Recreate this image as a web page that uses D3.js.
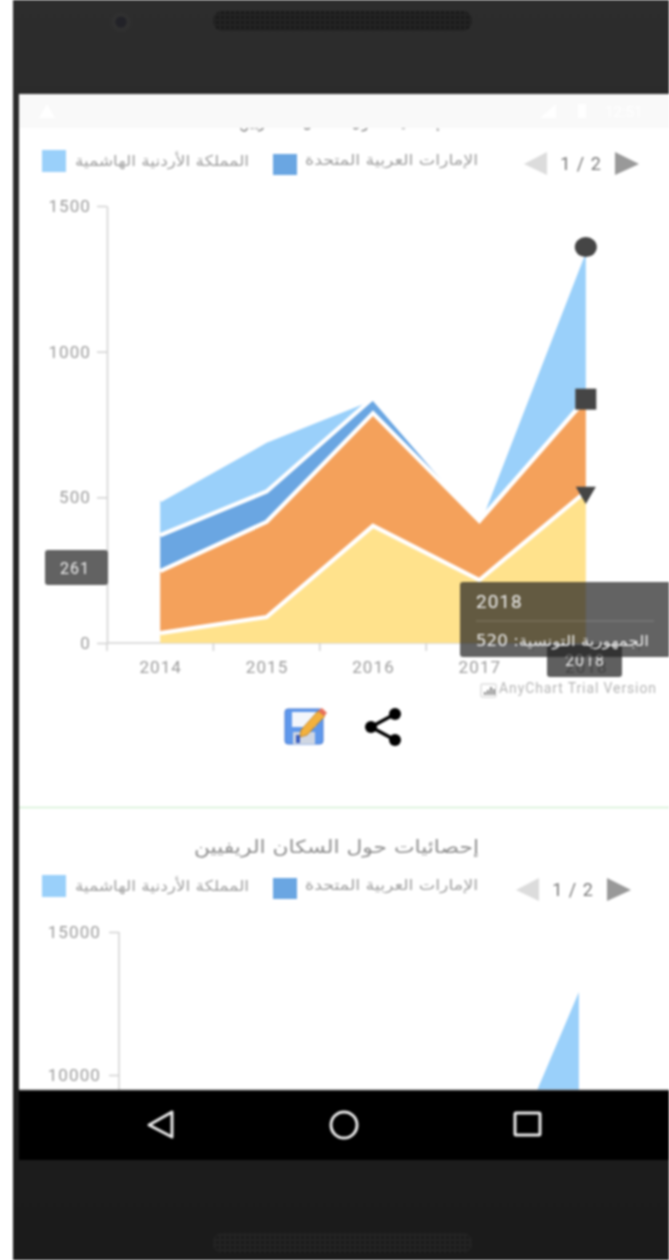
<!DOCTYPE html>
<html lang="ar"><head><meta charset="utf-8">
<script src="https://cdn.jsdelivr.net/npm/d3@7"></script>
<style>
html,body{margin:0;padding:0;background:#fff;overflow:hidden}
svg{display:block;filter:blur(.8px)}
text{font-family:"DejaVu Sans",sans-serif}
.num{font-family:Roboto,"DejaVu Sans",sans-serif}
</style></head><body>
<svg id="c" width="669" height="1260"></svg>
<script>
const years = ["2014","2015","2016","2017","2018"];
const tunisia = [34, 89, 402, 216, 520];
const secondBand = [213, 327, 387, 203, 317];
const uae = [123, 104, 52, 0, 0];
const jordan = [120, 175, 0, 0, 522];
const yTicks1 = [0, 500, 1000, 1500];
const yTicks2 = [10000, 15000];
const jordanRural = [4500, 12900];
const yearsRural = ["2017","2018"];
const allYearsRural = years;
const legendNames = ["المملكة الأردنية الهاشمية", "الإمارات العربية المتحدة"];
const titleRural = "إحصائيات حول السكان الريفيين";
const titleUrban = "إحصائيات حول السكان الحضريين";
const tooltipLine = "الجمهورية التونسية: 520";
const colors = {yellow:"#ffe28c", orange:"#f4a15b", blue:"#6aa6e2", light:"#9ad0fa"};

const svg = d3.select("#c");
const defs = svg.append("defs");
const bez = defs.append("linearGradient").attr("id","bez").attr("x1",0).attr("y1",0).attr("x2",0).attr("y2",1);
bez.append("stop").attr("offset","0").attr("stop-color","#2d2d2d");
bez.append("stop").attr("offset","1").attr("stop-color","#1b1b1b");
const pat = defs.append("pattern").attr("id","dots").attr("width",5).attr("height",5).attr("patternUnits","userSpaceOnUse");
pat.append("rect").attr("width",5).attr("height",5).attr("fill","#232323");
pat.append("circle").attr("cx",2.5).attr("cy",2.5).attr("r",1.1).attr("fill","#0e0e0e");
defs.append("clipPath").attr("id","screen2").append("rect").attr("x",19).attr("y",810).attr("width",650).attr("height",280);

// device body
svg.append("rect").attr("x",13).attr("y",0).attr("width",656).attr("height",1260).attr("fill","url(#bez)");
svg.append("rect").attr("x",19).attr("y",94).attr("width",650).attr("height",1066).attr("fill","#fff");
svg.append("circle").attr("cx",121).attr("cy",22).attr("r",10).attr("fill","#303030");
svg.append("circle").attr("cx",121).attr("cy",22).attr("r",5.5).attr("fill","#222228");
[[213,11],[213,1233]].forEach(([x,y])=>svg.append("rect").attr("x",x).attr("y",y).attr("width",259).attr("height",20).attr("rx",9).attr("fill","url(#dots)"));

function legend(y0, yDark, pagerX, pagerY){
  svg.append("rect").attr("x",42).attr("y",y0).attr("width",24).attr("height",22).attr("fill",colors.light);
  svg.append("rect").attr("x",273).attr("y",yDark).attr("width",24).attr("height",21).attr("fill",colors.blue);
  svg.append("text").attr("x",75).attr("y",y0+16).attr("font-size",15).attr("fill","#a0a0a0").attr("textLength",174).attr("lengthAdjust","spacingAndGlyphs").attr("direction","rtl").attr("text-anchor","end").text(legendNames[0]);
  svg.append("text").attr("x",305).attr("y",y0+15).attr("font-size",15).attr("fill","#a0a0a0").attr("textLength",173).attr("lengthAdjust","spacingAndGlyphs").attr("direction","rtl").attr("text-anchor","end").text(legendNames[1]);
  svg.append("path").attr("d",`M${pagerX},${pagerY+12}L${pagerX+23},${pagerY}V${pagerY+23}Z`).attr("fill","#dcdcdc");
  svg.append("path").attr("d",`M${pagerX+91},${pagerY}L${pagerX+115},${pagerY+12}L${pagerX+91},${pagerY+23}Z`).attr("fill","#999");
  svg.append("text").attr("class","num").attr("x",pagerX+57).attr("y",pagerY+18).attr("text-anchor","middle").attr("font-size",18).attr("letter-spacing",1).attr("fill","#777").text("1 / 2");
}

// first chart
const x1 = d3.scaleBand().domain(years).range([107,639]);
const y1 = d3.scaleLinear().domain([0,1500]).range([643,206]);
const cx1 = d => x1(d)+x1.bandwidth()/2;
const stackRows = years.map((y,i)=>({y, a:tunisia[i], b:secondBand[i], c:uae[i], d:jordan[i]}));
const stacked = d3.stack().keys(["a","b","c","d"])(stackRows);
const fills = [colors.yellow, colors.orange, colors.blue, colors.light];
const area1 = d3.area().x(d=>cx1(d.data.y)).y0(d=>y1(d[0])).y1(d=>y1(d[1]));
const top1 = d3.line().x(d=>cx1(d.data.y)).y(d=>y1(d[1]));

svg.append("text").attr("x",239).attr("y",127).attr("text-anchor","end").attr("direction","rtl").attr("font-size",18).attr("fill","#8f8f8f").attr("textLength",201).attr("lengthAdjust","spacingAndGlyphs").text(titleUrban);
legend(150,154,524,152);

function axisStyle(g){
  g.selectAll("path.domain").attr("stroke","#d2d2d2").attr("stroke-width",1.5);
  g.selectAll(".tick line").attr("stroke","#d2d2d2").attr("stroke-width",1.5);
  g.selectAll("text").attr("class","num").attr("fill","#9c9c9c").attr("font-size",17).attr("letter-spacing",1.1);
}
const gy = svg.append("g").attr("transform","translate(107,0)").call(d3.axisLeft(y1).tickValues(yTicks1).tickFormat(d3.format("d")).tickSize(10).tickPadding(6).tickSizeOuter(0));
axisStyle(gy);
const gx = svg.append("g").attr("transform","translate(0,643)").call(d3.axisBottom(d3.scalePoint().domain(years).range([cx1(years[0]),cx1(years[4])])).tickSize(0).tickPadding(18).tickSizeOuter(0));
axisStyle(gx);
gx.select("path.domain").remove();
svg.append("line").attr("x1",107).attr("x2",639).attr("y1",643).attr("y2",643).attr("stroke","#d2d2d2").attr("stroke-width",1.5);
svg.selectAll("line.bt").data(years.concat(["end"])).join("line").attr("class","bt")
  .attr("x1",(d,i)=>107+i*x1.step()).attr("x2",(d,i)=>107+i*x1.step()).attr("y1",643).attr("y2",651).attr("stroke","#d2d2d2").attr("stroke-width",1.5);

[3,2,1,0].forEach(i=>{
  svg.append("path").attr("d",area1(stacked[i])).attr("fill",fills[i]);
  svg.append("path").attr("d",top1(stacked[i])).attr("fill","none").attr("stroke","#fff").attr("stroke-width",4.2);
});

// markers on the 2018 points
const last = years.length-1;
const mark = "#454545";
svg.append("ellipse").attr("cx",cx1("2018")).attr("cy",y1(stacked[3][last][1])).attr("rx",11).attr("ry",10).attr("fill",mark);
svg.append("path").attr("transform",`translate(${cx1("2018")},${y1(stacked[1][last][1])})`).attr("d",d3.symbol(d3.symbolSquare,440)).attr("fill",mark);
svg.append("path").attr("transform",`translate(${cx1("2018")},${y1(stacked[0][last][1])+1}) rotate(180)`).attr("d",d3.symbol(d3.symbolTriangle,175)).attr("fill",mark);

// crosshair tags
svg.append("rect").attr("x",45).attr("y",550).attr("width",63).attr("height",35).attr("rx",3).attr("fill","#626262");
svg.append("text").attr("class","num").attr("x",75).attr("y",574).attr("text-anchor","middle").attr("font-size",16).attr("letter-spacing",1).attr("fill","#eee").text("261");
svg.append("rect").attr("x",547).attr("y",645).attr("width",75).attr("height",32).attr("rx",3).attr("fill","rgb(33,33,33)").attr("fill-opacity",.72);
svg.append("text").attr("class","num").attr("x",585).attr("y",666).attr("text-anchor","middle").attr("font-size",16).attr("letter-spacing",1).attr("fill","#eee").text("2018");

// tooltip
svg.append("rect").attr("x",460).attr("y",582).attr("width",212).attr("height",75).attr("rx",3).attr("fill","rgb(33,33,33)").attr("fill-opacity",.7);
svg.append("text").attr("class","num").attr("x",476).attr("y",608).attr("font-size",19).attr("letter-spacing",1).attr("fill","#eee").text("2018");
svg.append("line").attr("x1",476).attr("x2",654).attr("y1",621).attr("y2",621).attr("stroke","#fff").attr("stroke-opacity",.2);
svg.append("text").attr("x",476).attr("y",646).attr("font-size",15).attr("fill","#eee").attr("textLength",173).attr("lengthAdjust","spacingAndGlyphs").attr("direction","rtl").attr("text-anchor","end").text(tooltipLine);

// watermark
svg.append("rect").attr("x",481).attr("y",684).attr("width",15).attr("height",13).attr("rx",1).attr("fill","#fff").attr("stroke","#ccc");
[[484,3],[487,5],[490,8],[493,6]].forEach(([x,h])=>svg.append("rect").attr("x",x).attr("y",695-h).attr("width",2).attr("height",h).attr("fill","#888"));
svg.append("text").attr("class","num").attr("x",499).attr("y",693).attr("font-size",14).attr("fill","#b5b5b5").attr("textLength",157).text("AnyChart Trial Version");

// save icon
const ic = svg.append("g");
ic.append("rect").attr("x",285).attr("y",709).attr("width",38).attr("height",35).attr("rx",3).attr("fill","#5f98ec").attr("stroke","#4a7bd0");
ic.append("rect").attr("x",292).attr("y",712).attr("width",24).attr("height",15).attr("fill","#f3f6fb");
ic.append("rect").attr("x",293).attr("y",732).attr("width",22).attr("height",12).attr("fill","#cfd6e2");
ic.append("rect").attr("x",296).attr("y",735).attr("width",4).attr("height",8).attr("fill","#3b5fc0");
ic.append("path").attr("d","M301,730L318,711L325,716L307,735L300,737Z").attr("fill","#f3b13c").attr("stroke","#b87a1e").attr("stroke-width",.8);
ic.append("path").attr("d","M318,711L322,708L327,713L324,716Z").attr("fill","#e8705a");

// share icon
const sh = svg.append("g");
sh.append("path").attr("d","M371,727L395,714M371,727L395,740").attr("stroke","#000").attr("stroke-width",3.5).attr("fill","none");
[[371,727],[395,714],[395,740]].forEach(([x,y])=>sh.append("circle").attr("cx",x).attr("cy",y).attr("r",6).attr("fill","#000"));

// separator
svg.append("line").attr("x1",19).attr("x2",669).attr("y1",807.5).attr("y2",807.5).attr("stroke","#d4f0d4").attr("stroke-width",1.5);

// second chart
svg.append("text").attr("x",194).attr("y",853).attr("text-anchor","end").attr("direction","rtl").attr("font-size",18).attr("fill","#8f8f8f").attr("textLength",285).attr("lengthAdjust","spacingAndGlyphs").text(titleRural);
legend(875,878,516,878);
const x2 = d3.scaleBand().domain(allYearsRural).range([119,630]);
const y2 = d3.scaleLinear().domain([0,15000]).range([1361,932]);
const cx2 = d => x2(d)+x2.bandwidth()/2;
const gy2 = svg.append("g").attr("transform","translate(119,0)").call(d3.axisLeft(y2).tickValues(yTicks2).tickFormat(d3.format("d")).tickSize(10).tickPadding(8).tickSizeOuter(0));
axisStyle(gy2);
gy2.select("path.domain").remove();
svg.append("line").attr("x1",119).attr("x2",119).attr("y1",932).attr("y2",1090).attr("stroke","#d2d2d2").attr("stroke-width",1.5);
const area2 = d3.area().x((d,i)=>cx2(yearsRural[i])).y0(y2(0)).y1(d=>y2(d));
svg.append("path").attr("clip-path","url(#screen2)").attr("d",area2(jordanRural)).attr("fill",colors.light);

// status bar
svg.append("rect").attr("x",19).attr("y",94).attr("width",650).attr("height",34).attr("fill","#f9f9f9");
svg.append("path").attr("d","M47,104L55,118H39Z").attr("fill","#fff");
svg.append("rect").attr("x",578).attr("y",104).attr("width",8).attr("height",14).attr("fill","#fff");
svg.append("path").attr("d","M540,118L556,104V118Z").attr("fill","#fff");
svg.append("text").attr("class","num").attr("x",605).attr("y",117).attr("font-size",15).attr("fill","#fff").text("12:51");

// nav bar
svg.append("rect").attr("x",19).attr("y",1090).attr("width",650).attr("height",70).attr("fill","#000");
svg.append("line").attr("x1",19).attr("x2",669).attr("y1",1090).attr("y2",1090).attr("stroke","#888").attr("stroke-width",1);
const nav = svg.append("g").attr("fill","none").attr("stroke","#e8e8e8").attr("stroke-width",3).attr("stroke-linejoin","round");
nav.append("path").attr("d","M149,1125L172,1112V1137Z");
nav.append("ellipse").attr("cx",344).attr("cy",1125).attr("rx",13).attr("ry",13);
nav.append("rect").attr("x",515).attr("y",1113).attr("width",25).attr("height",22).attr("rx",1);
</script>
</body></html>
